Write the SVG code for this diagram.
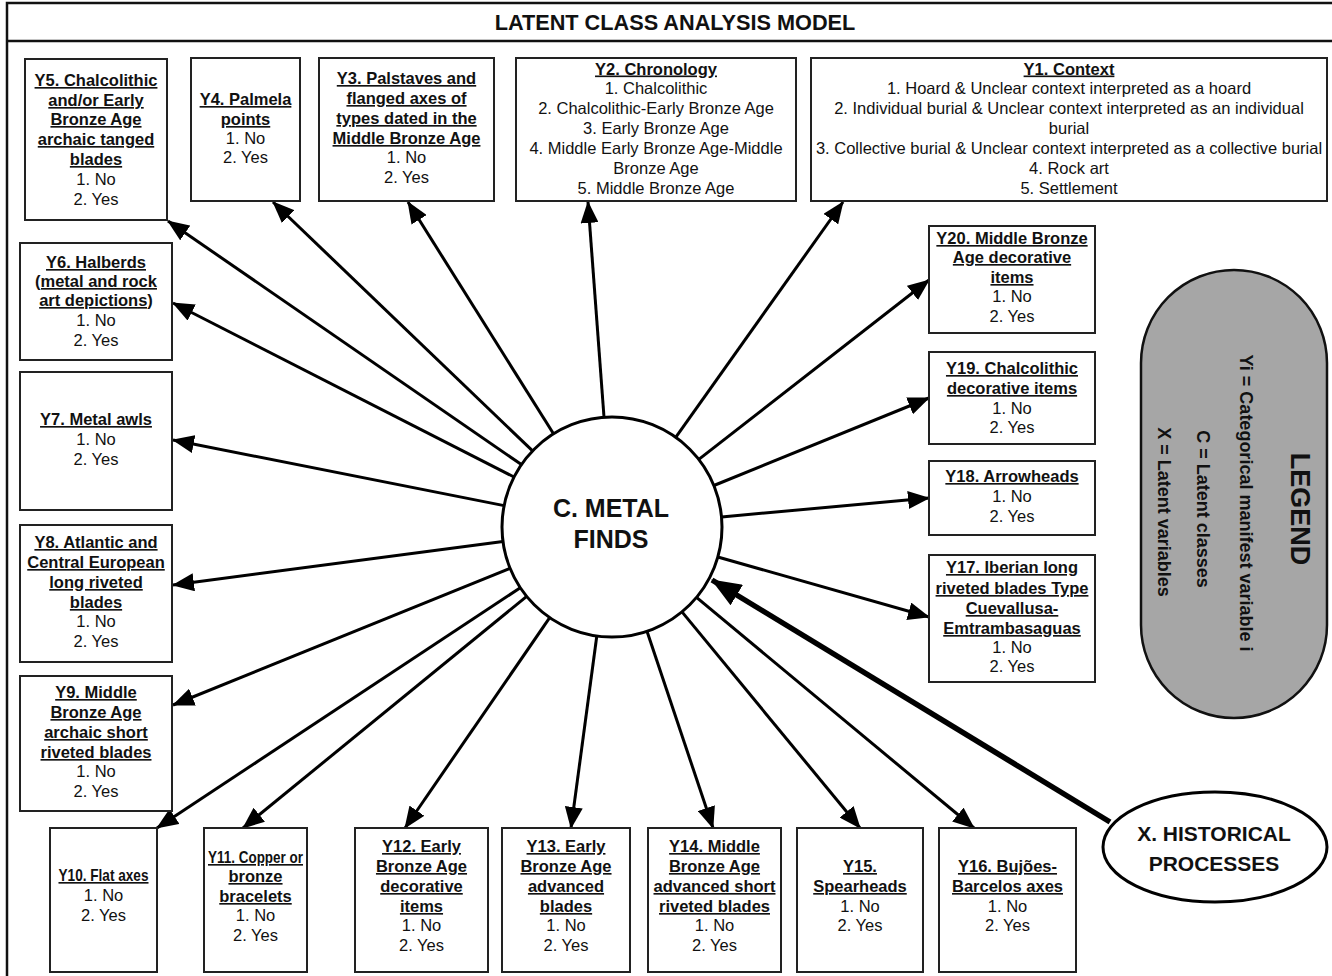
<svg xmlns="http://www.w3.org/2000/svg" width="1332" height="976" viewBox="0 0 1332 976">
<style>
.frame{fill:#fff;stroke:#111;stroke-width:2.5}
.box{fill:#fff;stroke:#222;stroke-width:2}
.t{font-family:"Liberation Sans",Arial,sans-serif;font-size:16.5px;fill:#111;text-anchor:middle}
.h{font-weight:bold;text-decoration:underline}
.conn{stroke:#000;stroke-width:3;fill:none;marker-end:url(#arr)}
.thick{stroke:#000;stroke-width:5.5;fill:none;marker-end:url(#arrBig)}
.big{font-family:"Liberation Sans",Arial,sans-serif;font-weight:bold;fill:#111;text-anchor:middle}
</style>
<defs>
<marker id="arr" markerUnits="userSpaceOnUse" viewBox="0 0 22 18" markerWidth="22" markerHeight="18" refX="21" refY="9" orient="auto"><path d="M0,0 L22,9 L0,18 z" fill="#000"/></marker>
<marker id="arrBig" markerUnits="userSpaceOnUse" viewBox="0 0 30 24" markerWidth="30" markerHeight="24" refX="29" refY="12" orient="auto"><path d="M0,0 L30,12 L0,24 z" fill="#000"/></marker>
</defs>
<rect width="1332" height="976" fill="#fff"/>
<g id="frame">
<rect class="frame" x="7" y="3" width="1340" height="990"/>
<line x1="7" y1="41" x2="1332" y2="41" stroke="#111" stroke-width="2.5"/>
<text class="big" x="675" y="29.5" font-size="21.7">LATENT CLASS ANALYSIS MODEL</text>
</g>
<g id="connectors">
<path class="conn" d="M675.7,437.3 L843,202"/>
<path class="conn" d="M604,417 L588,202"/>
<path class="conn" d="M553.5,433.8 L408,202"/>
<path class="conn" d="M532.6,450.9 L273,202"/>
<path class="conn" d="M521.4,464.6 L168,221"/>
<path class="conn" d="M514,477 L173,303"/>
<path class="conn" d="M504.1,505.6 L173,440"/>
<path class="conn" d="M503,541.4 L173,585"/>
<path class="conn" d="M510,568.3 L173,705"/>
<path class="conn" d="M520.3,587.7 L157,828"/>
<path class="conn" d="M526.7,596.4 L243,828"/>
<path class="conn" d="M549.7,617.6 L405,828"/>
<path class="conn" d="M596.8,636 L571,828"/>
<path class="conn" d="M647,631.3 L713,828"/>
<path class="conn" d="M682,611.9 L860,828"/>
<path class="conn" d="M696.5,597.4 L974,828"/>
<path class="conn" d="M717.8,557 L929,617"/>
<path class="conn" d="M721.6,517 L929,498"/>
<path class="conn" d="M713.9,485.5 L929,398"/>
<path class="conn" d="M698.8,459.4 L929,280"/>
<path class="thick" d="M1110,822 L712,580"/>
</g>
<g id="C">
<circle cx="612" cy="527" r="110" fill="#fff" stroke="#000" stroke-width="3"/>
<text class="big" font-size="25"><tspan x="611" y="517">C. METAL</tspan><tspan x="611" y="548">FINDS</tspan></text>
</g>
<g id="X">
<ellipse cx="1215" cy="847" rx="112" ry="55" fill="#fff" stroke="#000" stroke-width="3"/>
<text class="big" font-size="21"><tspan x="1214" y="841">X. HISTORICAL</tspan><tspan x="1214" y="871">PROCESSES</tspan></text>
</g>
<g id="Y1">
<rect class="box" x="811" y="58" width="516" height="143"/>
<text class="t"><tspan x="1069" y="74.5" class="h">Y1. Context</tspan><tspan x="1069" y="94.3">1. Hoard &amp; Unclear context interpreted as a hoard</tspan><tspan x="1069" y="114.2">2. Individual burial &amp; Unclear context interpreted as an individual</tspan><tspan x="1069" y="134">burial</tspan><tspan x="1069" y="153.8">3. Collective burial &amp; Unclear context interpreted as a collective burial</tspan><tspan x="1069" y="173.7">4. Rock art</tspan><tspan x="1069" y="193.5">5. Settlement</tspan></text>
</g>
<g id="Y2">
<rect class="box" x="516" y="58" width="280" height="143"/>
<text class="t"><tspan x="656" y="74.5" class="h">Y2. Chronology</tspan><tspan x="656" y="94.3">1. Chalcolithic</tspan><tspan x="656" y="114.2">2. Chalcolithic-Early Bronze Age</tspan><tspan x="656" y="134">3. Early Bronze Age</tspan><tspan x="656" y="153.8">4. Middle Early Bronze Age-Middle</tspan><tspan x="656" y="173.7">Bronze Age</tspan><tspan x="656" y="193.5">5. Middle Bronze Age</tspan></text>
</g>
<g id="Y3">
<rect class="box" x="319" y="58" width="175" height="143"/>
<text class="t"><tspan x="406.5" y="84" class="h">Y3. Palstaves and</tspan><tspan x="406.5" y="104" class="h">flanged axes of</tspan><tspan x="406.5" y="124" class="h">types dated in the</tspan><tspan x="406.5" y="144" class="h">Middle Bronze Age</tspan><tspan x="406.5" y="163">1. No</tspan><tspan x="406.5" y="183">2. Yes</tspan></text>
</g>
<g id="Y4">
<rect class="box" x="191" y="58" width="109" height="143"/>
<text class="t"><tspan x="245.5" y="105" class="h">Y4. Palmela</tspan><tspan x="245.5" y="125" class="h">points</tspan><tspan x="245.5" y="144">1. No</tspan><tspan x="245.5" y="163">2. Yes</tspan></text>
</g>
<g id="Y5">
<rect class="box" x="25" y="59" width="142" height="161"/>
<text class="t"><tspan x="96" y="86" class="h">Y5. Chalcolithic</tspan><tspan x="96" y="106" class="h">and/or Early</tspan><tspan x="96" y="125" class="h">Bronze Age</tspan><tspan x="96" y="145" class="h">archaic tanged</tspan><tspan x="96" y="165" class="h">blades</tspan><tspan x="96" y="185">1. No</tspan><tspan x="96" y="205">2. Yes</tspan></text>
</g>
<g id="Y6">
<rect class="box" x="20" y="243" width="152" height="117"/>
<text class="t"><tspan x="96" y="268" class="h">Y6. Halberds</tspan><tspan x="96" y="287" class="h">(metal and rock</tspan><tspan x="96" y="306" class="h">art depictions)</tspan><tspan x="96" y="326">1. No</tspan><tspan x="96" y="346">2. Yes</tspan></text>
</g>
<g id="Y7">
<rect class="box" x="20" y="372" width="152" height="138"/>
<text class="t"><tspan x="96" y="425" class="h">Y7. Metal awls</tspan><tspan x="96" y="445">1. No</tspan><tspan x="96" y="465">2. Yes</tspan></text>
</g>
<g id="Y8">
<rect class="box" x="20" y="525" width="152" height="137"/>
<text class="t"><tspan x="96" y="548" class="h">Y8. Atlantic and</tspan><tspan x="96" y="568" class="h">Central European</tspan><tspan x="96" y="588" class="h">long riveted</tspan><tspan x="96" y="608" class="h">blades</tspan><tspan x="96" y="627">1. No</tspan><tspan x="96" y="647">2. Yes</tspan></text>
</g>
<g id="Y9">
<rect class="box" x="20" y="676" width="152" height="135"/>
<text class="t"><tspan x="96" y="698" class="h">Y9. Middle</tspan><tspan x="96" y="718" class="h">Bronze Age</tspan><tspan x="96" y="738" class="h">archaic short</tspan><tspan x="96" y="758" class="h">riveted blades</tspan><tspan x="96" y="777">1. No</tspan><tspan x="96" y="797">2. Yes</tspan></text>
</g>
<g id="Y10">
<rect class="box" x="50" y="828" width="107" height="144"/>
<text class="t" x="103.5" y="881" font-weight="bold" text-decoration="underline" textLength="90" lengthAdjust="spacingAndGlyphs">Y10. Flat axes</text>
<text class="t"><tspan x="103.5" y="901">1. No</tspan><tspan x="103.5" y="921">2. Yes</tspan></text>
</g>
<g id="Y11">
<rect class="box" x="204" y="828" width="103" height="144"/>
<text class="t" x="255.5" y="863" font-weight="bold" text-decoration="underline" textLength="95" lengthAdjust="spacingAndGlyphs">Y11. Copper or</text>
<text class="t"><tspan x="255.5" y="882" class="h">bronze</tspan><tspan x="255.5" y="902" class="h">bracelets</tspan><tspan x="255.5" y="921">1. No</tspan><tspan x="255.5" y="941">2. Yes</tspan></text>
</g>
<g id="Y12">
<rect class="box" x="355" y="828" width="133" height="144"/>
<text class="t"><tspan x="421.5" y="852" class="h">Y12. Early</tspan><tspan x="421.5" y="872" class="h">Bronze Age</tspan><tspan x="421.5" y="892" class="h">decorative</tspan><tspan x="421.5" y="912" class="h">items</tspan><tspan x="421.5" y="931">1. No</tspan><tspan x="421.5" y="951">2. Yes</tspan></text>
</g>
<g id="Y13">
<rect class="box" x="502" y="828" width="128" height="144"/>
<text class="t"><tspan x="566" y="852" class="h">Y13. Early</tspan><tspan x="566" y="872" class="h">Bronze Age</tspan><tspan x="566" y="892" class="h">advanced</tspan><tspan x="566" y="912" class="h">blades</tspan><tspan x="566" y="931">1. No</tspan><tspan x="566" y="951">2. Yes</tspan></text>
</g>
<g id="Y14">
<rect class="box" x="648" y="828" width="133" height="144"/>
<text class="t"><tspan x="714.5" y="852" class="h">Y14. Middle</tspan><tspan x="714.5" y="872" class="h">Bronze Age</tspan><tspan x="714.5" y="892" class="h">advanced short</tspan><tspan x="714.5" y="912" class="h">riveted blades</tspan><tspan x="714.5" y="931">1. No</tspan><tspan x="714.5" y="951">2. Yes</tspan></text>
</g>
<g id="Y15">
<rect class="box" x="797" y="828" width="126" height="144"/>
<text class="t"><tspan x="860" y="872" class="h">Y15.</tspan><tspan x="860" y="892" class="h">Spearheads</tspan><tspan x="860" y="912">1. No</tspan><tspan x="860" y="931">2. Yes</tspan></text>
</g>
<g id="Y16">
<rect class="box" x="939" y="828" width="137" height="144"/>
<text class="t"><tspan x="1007.5" y="872" class="h">Y16. Bujões-</tspan><tspan x="1007.5" y="892" class="h">Barcelos axes</tspan><tspan x="1007.5" y="912">1. No</tspan><tspan x="1007.5" y="931">2. Yes</tspan></text>
</g>
<g id="Y17">
<rect class="box" x="929" y="555" width="166" height="127"/>
<text class="t"><tspan x="1012" y="573" class="h">Y17. Iberian long</tspan><tspan x="1012" y="594" class="h">riveted blades Type</tspan><tspan x="1012" y="614" class="h">Cuevallusa-</tspan><tspan x="1012" y="634" class="h">Emtrambasaguas</tspan><tspan x="1012" y="653">1. No</tspan><tspan x="1012" y="672">2. Yes</tspan></text>
</g>
<g id="Y18">
<rect class="box" x="929" y="461" width="166" height="74"/>
<text class="t"><tspan x="1012" y="482" class="h">Y18. Arrowheads</tspan><tspan x="1012" y="502">1. No</tspan><tspan x="1012" y="522">2. Yes</tspan></text>
</g>
<g id="Y19">
<rect class="box" x="929" y="352" width="166" height="92"/>
<text class="t"><tspan x="1012" y="374" class="h">Y19. Chalcolithic</tspan><tspan x="1012" y="394" class="h">decorative items</tspan><tspan x="1012" y="414">1. No</tspan><tspan x="1012" y="433">2. Yes</tspan></text>
</g>
<g id="Y20">
<rect class="box" x="929" y="226" width="166" height="107"/>
<text class="t"><tspan x="1012" y="244" class="h">Y20. Middle Bronze</tspan><tspan x="1012" y="263" class="h">Age decorative</tspan><tspan x="1012" y="283" class="h">items</tspan><tspan x="1012" y="302">1. No</tspan><tspan x="1012" y="322">2. Yes</tspan></text>
</g>
<g id="legend">
<rect x="1141" y="270" width="186" height="448" rx="93" ry="93" fill="#a6a6a6" stroke="#111" stroke-width="2.5"/>
<text class="big" font-size="27" transform="translate(1291,509) rotate(90)">LEGEND</text>
<text class="big" font-size="18" transform="translate(1240,503) rotate(90)">Yi = Categorical manifest variable i</text>
<text class="big" font-size="18" transform="translate(1197,509) rotate(90)">C = Latent classes</text>
<text class="big" font-size="18" transform="translate(1158,512) rotate(90)">X = Latent variables</text>
</g>
</svg>
